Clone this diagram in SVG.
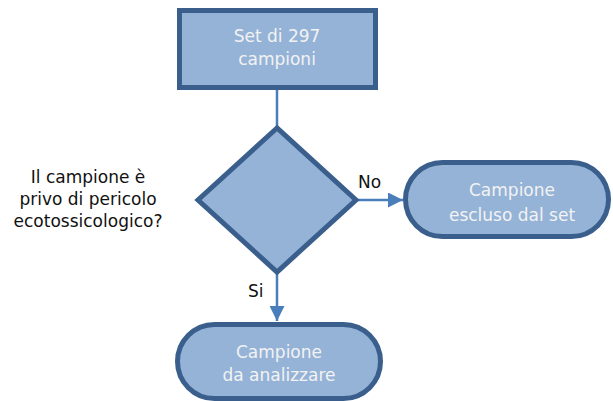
<svg xmlns="http://www.w3.org/2000/svg" width="613" height="401" viewBox="0 0 613 401">
<defs>
<style>
.shape{fill:#95B3D7;stroke:#3A5F8D;stroke-width:5;stroke-linejoin:miter}
.ntext{font-family:"DejaVu Sans",sans-serif;font-size:17px;fill:#F2F2F2;text-anchor:middle}
.label{font-family:"DejaVu Sans",sans-serif;font-size:17px;fill:#111111}
.conn{stroke:#4A7EBB;stroke-width:2.5;fill:none}
</style>
<marker id="arrow" viewBox="0 0 10 10" refX="10" refY="5" markerWidth="6" markerHeight="6" markerUnits="strokeWidth" orient="auto">
<path d="M0,0 L10,5 L0,10 Z" fill="#4A7EBB"/>
</marker>
</defs>
<g id="connectors">
<line class="conn" x1="277" y1="90" x2="277" y2="127"/>
<line class="conn" x1="357" y1="200" x2="403" y2="200" marker-end="url(#arrow)"/>
<line class="conn" x1="277" y1="274" x2="277" y2="321" marker-end="url(#arrow)"/>
<text class="label" x="358" y="188">No</text>
<text class="label" x="248" y="297">Si</text>
</g>
<g id="start">
<rect class="shape" x="179.5" y="10.5" width="196" height="77"/>
<text class="ntext" x="277" y="42">Set di 297</text>
<text class="ntext" x="277" y="65">campioni</text>
</g>
<g id="decision">
<polygon class="shape" points="277,128 198,200 277,272 356,200"/>
</g>
<g id="question">
<text class="label" text-anchor="middle" x="88" y="183">Il campione è</text>
<text class="label" text-anchor="middle" x="88" y="205">privo di pericolo</text>
<text class="label" text-anchor="middle" x="88" y="227">ecotossicologico?</text>
</g>
<g id="excluded">
<rect class="shape" x="405.5" y="162.5" width="203" height="74" rx="37"/>
<text class="ntext" x="512" y="196">Campione</text>
<text class="ntext" x="512" y="221">escluso dal set</text>
</g>
<g id="analyze">
<rect class="shape" x="177.5" y="324.5" width="203" height="74" rx="37"/>
<text class="ntext" x="279" y="358">Campione</text>
<text class="ntext" x="279" y="381">da analizzare</text>
</g>
</svg>
